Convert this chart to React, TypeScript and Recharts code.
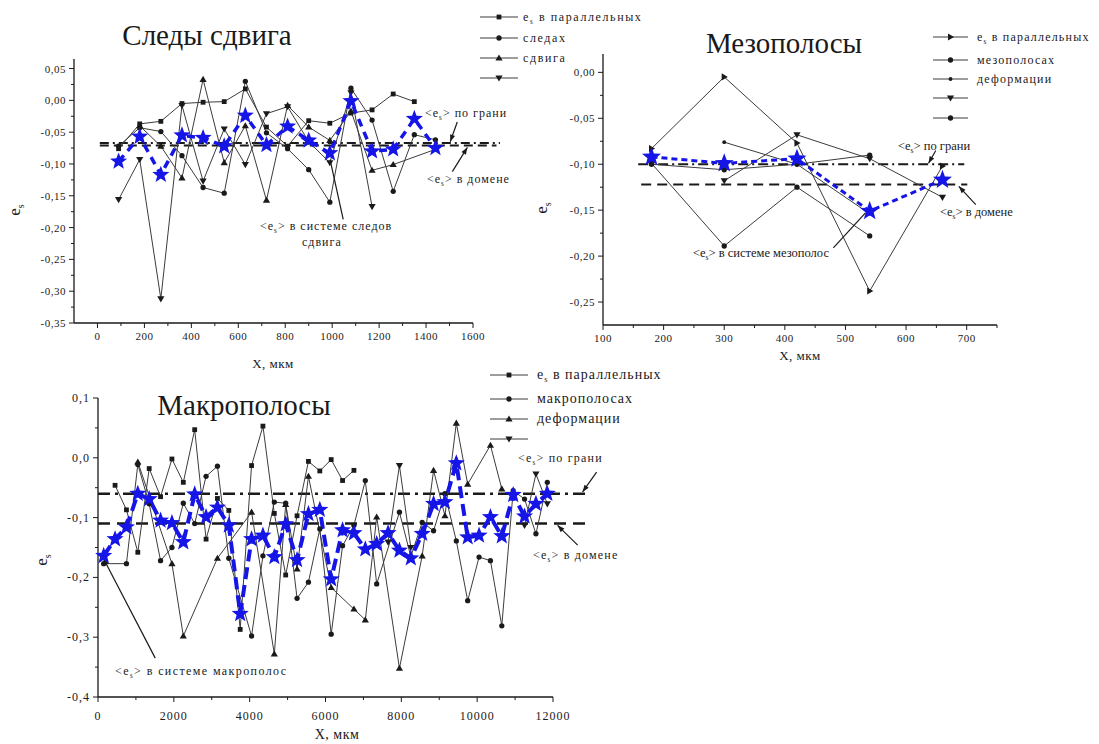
import React from 'react';
import { LineChart, Line, XAxis, YAxis, ReferenceLine } from 'recharts';

const SERIF = "'Liberation Serif', 'DejaVu Serif', serif";
const INK = '#1a1a1a';
const GRAY = '#3c3c3c';
const BLUE = '#1515e8';

// ---------- Следы сдвига ----------
const shearX = [90, 180, 270, 360, 450, 540, 630, 720, 810, 900, 990, 1080, 1170, 1260, 1350, 1440];
const shearMean = [-0.096, -0.057, -0.117, -0.055, -0.059, -0.072, -0.024, -0.07, -0.041, -0.063, -0.083, -0.001, -0.08, -0.077, -0.029, -0.075];
const shearS1 = [-0.076, -0.037, -0.033, -0.005, -0.003, -0.002, 0.018, -0.042, -0.072, -0.032, -0.036, -0.02, -0.015, 0.01, -0.002, null];
const shearS2 = [-0.072, -0.043, -0.049, -0.087, -0.137, -0.146, 0.03, -0.051, -0.076, -0.109, -0.16, 0.019, -0.031, -0.143, -0.054, -0.062];
const shearS3 = [null, -0.04, -0.072, -0.122, 0.033, -0.098, -0.04, -0.157, -0.008, -0.042, -0.063, -0.017, -0.11, -0.101, null, -0.077];
const shearS4 = [-0.156, -0.093, -0.312, -0.008, -0.127, -0.045, -0.101, -0.021, -0.01, -0.065, -0.098, 0.012, -0.167, null, null, null];
const shearFace = -0.067; // <e> по грани
const shearDomain = -0.071; // <e> в домене
const shearXMajor = [0, 200, 400, 600, 800, 1000, 1200, 1400, 1600];
const shearXMinor = [100, 300, 500, 700, 900, 1100, 1300, 1500];
const shearYMajor = [-0.35, -0.3, -0.25, -0.2, -0.15, -0.1, -0.05, 0, 0.05];
const shearYMinor = [-0.325, -0.275, -0.225, -0.175, -0.125, -0.075, -0.025, 0.025];

// ---------- Мезополосы ----------
const mesoX = [180, 300, 420, 540, 660];
const mesoMean = [-0.092, -0.099, -0.094, -0.151, -0.117];
const mesoS1 = [-0.083, -0.005, -0.077, -0.238, -0.102];
const mesoS2 = [-0.099, -0.189, -0.125, -0.178, null];
const mesoS3 = [null, -0.076, -0.1, -0.154, null];
const mesoS4 = [null, -0.118, -0.068, -0.094, -0.136];
const mesoS5 = [-0.1, -0.106, -0.1, -0.09, null];
const mesoFace = -0.1;
const mesoDomain = -0.122;
const mesoXMajor = [100, 200, 300, 400, 500, 600, 700];
const mesoXMinor = [150, 250, 350, 450, 550, 650, 750];
const mesoYMajor = [-0.25, -0.2, -0.15, -0.1, -0.05, 0];
const mesoYMinor = [-0.225, -0.175, -0.125, -0.075, -0.025];

// ---------- Макрополосы ----------
const macroX = [150, 450, 750, 1050, 1350, 1650, 1950, 2250, 2550, 2850, 3150, 3450, 3750, 4050, 4350, 4650, 4950, 5250, 5550, 5850,
  6150, 6450, 6750, 7050, 7350, 7650, 7950, 8250, 8550, 8850, 9150, 9450, 9750, 10050, 10350, 10650, 10950, 11250, 11550, 11850];
const macroMean = [-0.164, -0.136, -0.116, -0.06, -0.069, -0.105, -0.109, -0.141, -0.061, -0.099, -0.083, -0.113, -0.261, -0.136, -0.13, -0.166, -0.111, -0.171, -0.094, -0.087,
  -0.203, -0.121, -0.126, -0.153, -0.144, -0.126, -0.155, -0.168, -0.127, -0.077, -0.074, -0.009, -0.133, -0.13, -0.099, -0.131, -0.062, -0.098, -0.077, -0.06];
const macroA = [null, -0.046, -0.087, -0.158, -0.018, -0.065, -0.002, -0.041, 0.047, -0.136, -0.068, -0.088, -0.287, -0.013, 0.053, -0.093, -0.196, -0.097, -0.006, -0.022,
  -0.003, -0.038, -0.021, null, null, null, null, null, null, null, null, null, null, null, null, null, null, null, null, null];
const macroB = [-0.177, null, -0.177, -0.011, -0.077, -0.172, -0.15, -0.076, -0.11, -0.031, -0.014, -0.168, null, -0.298, -0.164, -0.074, -0.076, -0.235, -0.208, -0.119,
  -0.295, -0.147, -0.113, -0.038, -0.211, null, -0.091, -0.165, -0.108, -0.122, -0.06, -0.139, -0.239, -0.166, -0.172, -0.281, -0.055, -0.069, -0.127, -0.041];
const macroC = [null, null, null, -0.007, null, null, -0.177, -0.298, null, null, -0.168, null, null, -0.091, null, -0.328, -0.078, -0.186, -0.031, null,
  -0.217, null, -0.253, -0.271, -0.099, null, -0.352, null, -0.164, -0.021, -0.097, 0.058, -0.044, null, 0.021, -0.052, null, null, null, null];
const macroD = [null, null, null, null, null, null, null, null, null, null, null, null, null, null, null, null, null, null, null, null,
  null, null, null, null, null, -0.141, -0.013, -0.15, null, null, null, null, null, null, null, null, null, -0.113, -0.027, -0.077];
const macroFace = -0.06;
const macroDomain = -0.11;
const macroXMajor = [0, 2000, 4000, 6000, 8000, 10000, 12000];
const macroXMinor = [1000, 3000, 5000, 7000, 9000, 11000];
const macroYMajor = [-0.4, -0.3, -0.2, -0.1, 0, 0.1];
const macroYMinor = [-0.35, -0.25, -0.15, -0.05, 0.05];

const shearData = shearX.map((x, i) => ({ x, mean: shearMean[i], s1: shearS1[i], s2: shearS2[i], s3: shearS3[i], s4: shearS4[i] }));
const mesoData = mesoX.map((x, i) => ({ x, mean: mesoMean[i], s1: mesoS1[i], s2: mesoS2[i], s3: mesoS3[i], s4: mesoS4[i], s5: mesoS5[i] }));
const macroData = macroX.map((x, i) => ({ x, mean: macroMean[i], a: macroA[i], b: macroB[i], c: macroC[i], d: macroD[i] }));

const fmt = (v: number, d: number) => v.toFixed(d).replace('.', ',');
const isIn = (list: number[], v: number) => list.some((m) => Math.abs(m - v) < 1e-9);

function yTick(majors: number[], digits: number, size = 11, ls = 0.5) {
  return (p: any) => {
    const v = p.payload.value;
    const major = isIn(majors, v);
    return (
      <g key={`y-${p.index}`}>
        <line x1={p.x} x2={p.x - (major ? 5 : 3)} y1={p.y} y2={p.y} stroke={INK} />
        {major && (
          <text x={p.x - 8} y={p.y + 4} textAnchor="end" fontSize={size} letterSpacing={ls} fontFamily={SERIF} fill={INK}>
            {fmt(v, digits)}
          </text>
        )}
      </g>
    );
  };
}

function xTick(majors: number[], size = 11, ls = 0.5, dy = 17) {
  return (p: any) => {
    const v = p.payload.value;
    const major = isIn(majors, v);
    return (
      <g key={`x-${p.index}`}>
        <line x1={p.x} x2={p.x} y1={p.y} y2={p.y + (major ? 5 : 3)} stroke={INK} />
        {major && (
          <text x={p.x} y={p.y + dy} textAnchor="middle" fontSize={size} letterSpacing={ls} fontFamily={SERIF} fill={INK}>
            {String(v)}
          </text>
        )}
      </g>
    );
  };
}

function mk(kind: string, s = 2.4) {
  return (p: any) => {
    const { cx, cy, index } = p;
    const key = `${kind}-${index}`;
    if (!Number.isFinite(cx) || !Number.isFinite(cy) || p.value == null) return <g key={key} />;
    if (kind === 'square') return <rect key={key} x={cx - s} y={cy - s} width={2 * s} height={2 * s} fill={INK} />;
    if (kind === 'circle') return <circle key={key} cx={cx} cy={cy} r={s * 1.1} fill={INK} />;
    if (kind === 'dot') return <circle key={key} cx={cx} cy={cy} r={s * 0.8} fill={INK} />;
    const k = s * 1.5;
    if (kind === 'tri') return <polygon key={key} points={`${cx},${cy - k} ${cx - k},${cy + k * 0.7} ${cx + k},${cy + k * 0.7}`} fill={INK} />;
    if (kind === 'down') return <polygon key={key} points={`${cx},${cy + k} ${cx - k},${cy - k * 0.7} ${cx + k},${cy - k * 0.7}`} fill={INK} />;
    return <polygon key={key} points={`${cx + k},${cy} ${cx - k * 0.7},${cy - k} ${cx - k * 0.7},${cy + k}`} fill={INK} />;
  };
}

function starPts(cx: number, cy: number, R: number) {
  const pts: string[] = [];
  for (let k = 0; k < 10; k++) {
    const r = k % 2 === 0 ? R : R * 0.42;
    const a = -Math.PI / 2 + (k * Math.PI) / 5;
    pts.push(`${cx + r * Math.cos(a)},${cy + r * Math.sin(a)}`);
  }
  return pts.join(' ');
}

function star(R: number) {
  return (p: any) => {
    const key = `star-${p.index}`;
    if (!Number.isFinite(p.cx) || !Number.isFinite(p.cy)) return <g key={key} />;
    return <polygon key={key} points={starPts(p.cx, p.cy, R)} fill={BLUE} />;
  };
}

// line from the text to the curve, arrow head on the first point of the segment
function leader(head: boolean) {
  return (p: any) => {
    const { x1, y1, x2, y2 } = p;
    if (![x1, y1, x2, y2].every(Number.isFinite)) return <g />;
    const a = Math.atan2(y1 - y2, x1 - x2);
    const bx = x1 - 7 * Math.cos(a);
    const by = y1 - 7 * Math.sin(a);
    const px = -Math.sin(a) * 2.6;
    const py = Math.cos(a) * 2.6;
    return (
      <g>
        <line x1={x1} y1={y1} x2={x2} y2={y2} stroke={INK} strokeWidth={1.2} />
        {head && <polygon points={`${x1},${y1} ${bx + px},${by + py} ${bx - px},${by - py}`} fill={INK} />}
      </g>
    );
  };
}

const axisLine = { stroke: INK, strokeWidth: 1.3 };

function blackLine(key: string, kind: string, connect = true) {
  return (
    <Line key={key} type="linear" dataKey={key} stroke={GRAY} strokeWidth={1} dot={mk(kind)} activeDot={false}
      connectNulls={connect} isAnimationActive={false} />
  );
}

function Es({ x, y, rest, size = 12, ls = 1 }: { x: number; y: number; rest: string; size?: number; ls?: number }) {
  return (
    <text x={x} y={y} fontSize={size} letterSpacing={ls} fontFamily={SERIF} fill={INK}>
      {'<e'}
      <tspan dy={3} fontSize={size * 0.6}>s</tspan>
      <tspan dy={-3}>{'> ' + rest}</tspan>
    </text>
  );
}

function LegendRow({ x1, x2, tx, y, kind, label, size = 12, ls = 1, sub = false }:
  { x1: number; x2: number; tx: number; y: number; kind: string; label: string; size?: number; ls?: number; sub?: boolean }) {
  const cx = (x1 + x2) / 2;
  return (
    <g>
      <line x1={x1} x2={x2} y1={y} y2={y} stroke={GRAY} strokeWidth={1.2} />
      {mk(kind)({ cx, cy: y, index: label + y, value: 1 })}
      {label && (
        <text x={tx} y={y + 4} fontSize={size} letterSpacing={ls} fontFamily={SERIF} fill={INK}>
          {sub ? (
            <>
              e<tspan dy={3} fontSize={size * 0.6}>s</tspan>
              <tspan dy={-3}>{' ' + label}</tspan>
            </>
          ) : label}
        </text>
      )}
    </g>
  );
}

function YLabel({ x, y }: { x: number; y: number }) {
  return (
    <text x={x} y={y} transform={`rotate(-90 ${x} ${y})`} textAnchor="middle" fontSize={17} fontFamily={SERIF} fill={INK}>
      e<tspan dy={4} fontSize={10}>s</tspan>
    </text>
  );
}

export default function App() {
  return (
    <div style={{ position: 'absolute', left: 0, top: 0, width: 1099, height: 744, background: '#fff', overflow: 'hidden' }}>
      {/* Следы сдвига */}
      <div style={{ position: 'absolute', left: 0, top: 0 }}>
        <LineChart width={560} height={370} data={shearData} margin={{ top: 59, right: 87, bottom: 17, left: 14 }}>
          <XAxis type="number" dataKey="x" domain={[-100, 1600]} ticks={[...shearXMajor, ...shearXMinor]} interval={0}
            tickSize={0} tickMargin={0} tickLine={false} tick={xTick(shearXMajor)} axisLine={axisLine} height={30} />
          <YAxis type="number" domain={[-0.35, 0.065]} ticks={[...shearYMajor, ...shearYMinor]} interval={0}
            tickSize={0} tickMargin={0} tickLine={false} tick={yTick(shearYMajor, 2)} axisLine={axisLine} width={60} />
          <ReferenceLine segment={[{ x: 10, y: shearFace }, { x: 1715, y: shearFace }]} ifOverflow="visible"
            stroke={INK} strokeWidth={2} strokeDasharray="9 4 2 4" />
          <ReferenceLine segment={[{ x: 10, y: shearDomain }, { x: 1700, y: shearDomain }]} ifOverflow="visible"
            stroke={INK} strokeWidth={2} strokeDasharray="9 5" />
          {blackLine('s1', 'square')}
          {blackLine('s2', 'circle')}
          {blackLine('s3', 'tri')}
          {blackLine('s4', 'down')}
          <Line type="linear" dataKey="mean" stroke={BLUE} strokeWidth={3.5} strokeDasharray="8 6" dot={star(9)}
            activeDot={false} isAnimationActive={false} />
          <ReferenceLine segment={[{ x: 1503, y: -0.065 }, { x: 1533, y: -0.034 }]} ifOverflow="visible" shape={leader(true)} />
          <ReferenceLine segment={[{ x: 1576, y: -0.074 }, { x: 1512, y: -0.112 }]} ifOverflow="visible" shape={leader(true)} />
          <ReferenceLine segment={[{ x: 991, y: -0.093 }, { x: 1047, y: -0.187 }]} ifOverflow="visible" shape={leader(false)} />
        </LineChart>
      </div>

      {/* Мезополосы */}
      <div style={{ position: 'absolute', left: 540, top: 0 }}>
        <LineChart width={520} height={370} data={mesoData} margin={{ top: 54, right: 63, bottom: 15, left: 13 }}>
          <XAxis type="number" dataKey="x" domain={[100, 750]} ticks={[...mesoXMajor, ...mesoXMinor]} interval={0}
            tickSize={0} tickMargin={0} tickLine={false} tick={xTick(mesoXMajor)} axisLine={axisLine} height={30} />
          <YAxis type="number" domain={[-0.275, 0.02]} ticks={[...mesoYMajor, ...mesoYMinor]} interval={0}
            tickSize={0} tickMargin={0} tickLine={false} tick={yTick(mesoYMajor, 2)} axisLine={axisLine} width={50} />
          <ReferenceLine segment={[{ x: 158, y: mesoFace }, { x: 696, y: mesoFace }]} ifOverflow="visible"
            stroke={INK} strokeWidth={2} strokeDasharray="10 4 2 4" />
          <ReferenceLine segment={[{ x: 163, y: mesoDomain }, { x: 701, y: mesoDomain }]} ifOverflow="visible"
            stroke={INK} strokeWidth={2} strokeDasharray="10 6" />
          {blackLine('s1', 'right')}
          {blackLine('s2', 'circle')}
          {blackLine('s3', 'dot')}
          {blackLine('s4', 'down')}
          {blackLine('s5', 'circle')}
          <Line type="linear" dataKey="mean" stroke={BLUE} strokeWidth={3} strokeDasharray="6 4" dot={star(10)}
            activeDot={false} isAnimationActive={false} />
          <ReferenceLine segment={[{ x: 637, y: -0.099 }, { x: 649, y: -0.085 }]} ifOverflow="visible" shape={leader(true)} />
          <ReferenceLine segment={[{ x: 687, y: -0.124 }, { x: 715, y: -0.144 }]} ifOverflow="visible" shape={leader(true)} />
          <ReferenceLine segment={[{ x: 533, y: -0.153 }, { x: 480, y: -0.191 }]} ifOverflow="visible" shape={leader(false)} />
        </LineChart>
      </div>

      {/* Макрополосы */}
      <div style={{ position: 'absolute', left: 0, top: 370 }}>
        <LineChart width={620} height={374} data={macroData} margin={{ top: 28, right: 67, bottom: 17, left: 38 }}>
          <XAxis type="number" dataKey="x" domain={[0, 12000]} ticks={[...macroXMajor, ...macroXMinor]} interval={0}
            tickSize={0} tickMargin={0} tickLine={false} tick={xTick(macroXMajor, 12, 1, 23)} axisLine={axisLine} height={30} />
          <YAxis type="number" domain={[-0.4, 0.1]} ticks={[...macroYMajor, ...macroYMinor]} interval={0}
            tickSize={0} tickMargin={0} tickLine={false} tick={yTick(macroYMajor, 1, 12, 1)} axisLine={axisLine} width={60} />
          <ReferenceLine segment={[{ x: 0, y: macroFace }, { x: 12950, y: macroFace }]} ifOverflow="visible"
            stroke={INK} strokeWidth={2.5} strokeDasharray="12 5 3 5" />
          <ReferenceLine segment={[{ x: 0, y: macroDomain }, { x: 12950, y: macroDomain }]} ifOverflow="visible"
            stroke={INK} strokeWidth={2.5} strokeDasharray="12 7" />
          {blackLine('a', 'square')}
          {blackLine('b', 'circle')}
          {blackLine('c', 'tri')}
          {blackLine('d', 'down', false)}
          <Line type="linear" dataKey="mean" stroke={BLUE} strokeWidth={4} strokeDasharray="12 6" dot={star(9)}
            activeDot={false} isAnimationActive={false} />
          <ReferenceLine segment={[{ x: 12780, y: -0.057 }, { x: 13150, y: -0.024 }]} ifOverflow="visible" shape={leader(true)} />
          <ReferenceLine segment={[{ x: 12120, y: -0.113 }, { x: 12650, y: -0.146 }]} ifOverflow="visible" shape={leader(true)} />
          <ReferenceLine segment={[{ x: 140, y: -0.168 }, { x: 1510, y: -0.335 }]} ifOverflow="visible" shape={leader(true)} />
        </LineChart>
      </div>

      {/* titles, legends, notes */}
      <svg width={1099} height={744} style={{ position: 'absolute', left: 0, top: 0, pointerEvents: 'none' }}>
        <text x={207} y={35} textAnchor="middle" dominantBaseline="central" fontSize={29} fontFamily={SERIF} fill={INK}>Следы сдвига</text>
        <text x={784} y={43} textAnchor="middle" dominantBaseline="central" fontSize={29} fontFamily={SERIF} fill={INK}>Мезополосы</text>
        <text x={244} y={405} textAnchor="middle" dominantBaseline="central" fontSize={29} fontFamily={SERIF} fill={INK}>Макрополосы</text>

        <YLabel x={20} y={210} />
        <YLabel x={547} y={208} />
        <YLabel x={47} y={560} />
        <text x={273} y={368} textAnchor="middle" fontSize={13} letterSpacing={0.5} fontFamily={SERIF} fill={INK}>X, мкм</text>
        <text x={800} y={360} textAnchor="middle" fontSize={13} letterSpacing={0.5} fontFamily={SERIF} fill={INK}>X, мкм</text>
        <text x={337} y={739} textAnchor="middle" fontSize={14} letterSpacing={0.5} fontFamily={SERIF} fill={INK}>X, мкм</text>

        <LegendRow x1={480} x2={518} tx={523} y={17} kind="square" label="в параллельных" ls={1.6} sub />
        <LegendRow x1={480} x2={518} tx={523} y={38} kind="circle" label="следах" ls={1.6} />
        <LegendRow x1={480} x2={518} tx={523} y={58} kind="tri" label="сдвига" ls={1.6} />
        <LegendRow x1={480} x2={518} tx={523} y={78} kind="down" label="" />

        <LegendRow x1={933} x2={968} tx={977} y={37} kind="right" label="в параллельных" ls={1.2} sub />
        <LegendRow x1={933} x2={968} tx={977} y={60} kind="circle" label="мезополосах" ls={1.2} />
        <LegendRow x1={933} x2={968} tx={977} y={79} kind="dot" label="деформации" ls={1.2} />
        <LegendRow x1={933} x2={968} tx={977} y={98} kind="down" label="" />
        <LegendRow x1={933} x2={968} tx={977} y={118} kind="circle" label="" />

        <LegendRow x1={490} x2={528} tx={537} y={375} kind="square" label="в параллельных" size={14} sub />
        <LegendRow x1={490} x2={528} tx={537} y={399} kind="circle" label="макрополосах" size={14} />
        <LegendRow x1={490} x2={528} tx={537} y={419} kind="tri" label="деформации" size={14} />
        <LegendRow x1={490} x2={528} tx={537} y={439} kind="down" label="" size={14} />

        <Es x={425} y={117} rest="по грани" />
        <Es x={427} y={183} rest="в домене" />
        <Es x={260} y={230} rest="в системе следов" />
        <text x={302} y={246} fontSize={12} letterSpacing={1} fontFamily={SERIF} fill={INK}>сдвига</text>

        <Es x={898} y={150} rest="по грани" size={12.5} ls={0} />
        <Es x={940} y={216} rest="в домене" size={12.5} ls={0} />
        <Es x={693} y={257} rest="в системе мезополос" size={12.5} ls={0} />

        <Es x={518} y={462} rest="по грани" ls={1.2} />
        <Es x={533} y={559} rest="в домене" ls={1.2} />
        <Es x={115} y={675} rest="в системе макрополос" ls={1.4} />
      </svg>
    </div>
  );
}
